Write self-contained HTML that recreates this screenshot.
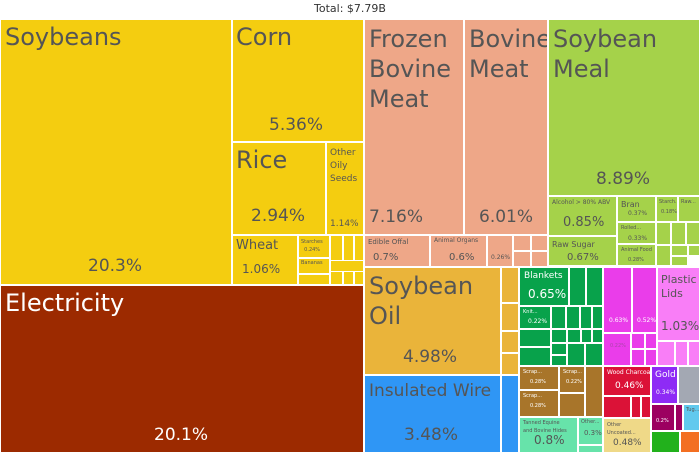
<!DOCTYPE html><html><head><style>
body{margin:0;width:700px;height:455px;background:#fff;font-family:"DejaVu Sans","Liberation Sans",sans-serif;overflow:hidden;position:relative}
.c{position:absolute;box-sizing:border-box;border:1px solid #fff;color:#555;overflow:hidden}
.t{position:absolute;white-space:nowrap;line-height:1.15}
.w{color:#fff}
</style></head><body>
<div class="t" style="left:0;width:700px;text-align:center;top:3px;font-size:11px;color:#333">Total: $7.79B</div>
<!-- yellow -->
<div class="c" style="left:0;top:19px;width:232px;height:266px;background:#F4CD10"><div class="t" style="left:4px;top:4px;font-size:24px">Soybeans</div><div class="t" style="left:87px;top:237px;font-size:17px">20.3%</div></div>
<div class="c" style="left:232px;top:19px;width:132px;height:123px;background:#F4CD10"><div class="t" style="left:3px;top:4px;font-size:24px">Corn</div><div class="t" style="left:36px;top:96px;font-size:17px">5.36%</div></div>
<div class="c" style="left:232px;top:142px;width:94px;height:93px;background:#F4CD10"><div class="t" style="left:3px;top:4px;font-size:24px">Rice</div><div class="t" style="left:18px;top:64px;font-size:17px">2.94%</div></div>
<div class="c" style="left:326px;top:142px;width:38px;height:93px;background:#F4CD10"><div class="t" style="left:3px;top:4px;font-size:9px;line-height:1.45">Other<br>Oily<br>Seeds</div><div class="t" style="left:3px;top:76px;font-size:9px">1.14%</div></div>
<div class="c" style="left:232px;top:235px;width:66px;height:50px;background:#F4CD10"><div class="t" style="left:3px;top:3px;font-size:13px">Wheat</div><div class="t" style="left:9px;top:27px;font-size:12px">1.06%</div></div>
<div class="c" style="left:298px;top:235px;width:32px;height:23px;background:#F4CD10"><div class="t" style="left:2px;top:2px;font-size:5px;line-height:1.6">Starches<br>&nbsp;&nbsp;0.24%</div></div>
<div class="c" style="left:298px;top:258px;width:32px;height:16px;background:#F4CD10"><div class="t" style="left:2px;top:2px;font-size:5px">Bananas</div></div>
<div class="c" style="left:298px;top:274px;width:32px;height:11px;background:#F4CD10"></div>
<div class="c" style="left:330px;top:235px;width:13px;height:50px;background:#F4CD10"></div>
<div class="c" style="left:343px;top:235px;width:11px;height:50px;background:#F4CD10"></div>
<div class="c" style="left:354px;top:235px;width:10px;height:50px;background:#F4CD10"></div>
<div class="c" style="left:330px;top:260px;width:34px;height:12px;background:#F4CD10"></div>
<!-- electricity -->
<div class="c" style="left:0;top:285px;width:364px;height:168px;background:#9C2A00"><div class="t w" style="left:4px;top:4px;font-size:24px">Electricity</div><div class="t w" style="left:153px;top:140px;font-size:17px">20.1%</div></div>
<!-- salmon -->
<div class="c" style="left:364px;top:19px;width:100px;height:216px;background:#EEA788"><div class="t" style="left:4px;top:4px;font-size:24px;line-height:1.25">Frozen<br>Bovine<br>Meat</div><div class="t" style="left:4px;top:188px;font-size:17px">7.16%</div></div>
<div class="c" style="left:464px;top:19px;width:84px;height:216px;background:#EEA788"><div class="t" style="left:4px;top:4px;font-size:24px;line-height:1.25">Bovine<br>Meat</div><div class="t" style="left:14px;top:188px;font-size:17px">6.01%</div></div>
<div class="c" style="left:364px;top:235px;width:66px;height:32px;background:#EEA788"><div class="t" style="left:3px;top:2px;font-size:7px">Edible Offal</div><div class="t" style="left:8px;top:16px;font-size:10px">0.7%</div></div>
<div class="c" style="left:430px;top:235px;width:57px;height:32px;background:#EEA788"><div class="t" style="left:3px;top:2px;font-size:6px">Animal Organs</div><div class="t" style="left:18px;top:16px;font-size:10px">0.6%</div></div>
<div class="c" style="left:487px;top:235px;width:26px;height:32px;background:#EEA788"><div class="t" style="left:3px;top:19px;font-size:6px">0.26%</div></div>
<div class="c" style="left:513px;top:235px;width:18px;height:16px;background:#EEA788"></div>
<div class="c" style="left:531px;top:235px;width:17px;height:16px;background:#EEA788"></div>
<div class="c" style="left:513px;top:251px;width:18px;height:16px;background:#EEA788"></div>
<div class="c" style="left:531px;top:251px;width:17px;height:16px;background:#EEA788"></div>
<!-- green light -->
<div class="c" style="left:548px;top:19px;width:152px;height:177px;background:#A5D24A"><div class="t" style="left:4px;top:4px;font-size:24px;line-height:1.25">Soybean<br>Meal</div><div class="t" style="left:47px;top:150px;font-size:17px">8.89%</div></div>
<div class="c" style="left:548px;top:196px;width:69px;height:40px;background:#A5D24A"><div class="t" style="left:3px;top:3px;font-size:6px">Alcohol &gt; 80% ABV</div><div class="t" style="left:14px;top:19px;font-size:13px">0.85%</div></div>
<div class="c" style="left:548px;top:236px;width:69px;height:30px;background:#A5D24A"><div class="t" style="left:3px;top:3px;font-size:8px">Raw Sugar</div><div class="t" style="left:18px;top:15px;font-size:10px">0.67%</div></div>
<div class="c" style="left:617px;top:196px;width:39px;height:26px;background:#A5D24A"><div class="t" style="left:3px;top:3px;font-size:8px">Bran</div><div class="t" style="left:10px;top:14px;font-size:6px">0.37%</div></div>
<div class="c" style="left:617px;top:222px;width:39px;height:22px;background:#A5D24A"><div class="t" style="left:3px;top:3px;font-size:5px">Rolled...</div><div class="t" style="left:10px;top:13px;font-size:6px">0.33%</div></div>
<div class="c" style="left:617px;top:244px;width:39px;height:22px;background:#A5D24A"><div class="t" style="left:3px;top:3px;font-size:5px">Animal Food</div><div class="t" style="left:10px;top:13px;font-size:5px">0.28%</div></div>
<div class="c" style="left:656px;top:196px;width:22px;height:26px;background:#A5D24A"><div class="t" style="left:2px;top:3px;font-size:5px">Starch...</div><div class="t" style="left:4px;top:13px;font-size:5px">0.18%</div></div>
<div class="c" style="left:678px;top:196px;width:22px;height:26px;background:#A5D24A"><div class="t" style="left:2px;top:3px;font-size:5px">Raw...</div></div>
<div class="c" style="left:656px;top:222px;width:15px;height:23px;background:#A5D24A"></div>
<div class="c" style="left:671px;top:222px;width:15px;height:23px;background:#A5D24A"></div>
<div class="c" style="left:686px;top:222px;width:14px;height:23px;background:#A5D24A"></div>
<div class="c" style="left:656px;top:245px;width:15px;height:21px;background:#A5D24A"></div>
<div class="c" style="left:671px;top:245px;width:17px;height:11px;background:#A5D24A"></div>
<div class="c" style="left:688px;top:245px;width:12px;height:11px;background:#A5D24A"></div>
<div class="c" style="left:671px;top:256px;width:17px;height:10px;background:#A5D24A"></div>
<!-- soybean oil -->
<div class="c" style="left:364px;top:267px;width:137px;height:108px;background:#EAB43A"><div class="t" style="left:4px;top:3px;font-size:24px;line-height:1.25">Soybean<br>Oil</div><div class="t" style="left:38px;top:80px;font-size:17px">4.98%</div></div>
<div class="c" style="left:501px;top:267px;width:18px;height:36px;background:#EAB43A"></div>
<div class="c" style="left:501px;top:303px;width:18px;height:28px;background:#EAB43A"></div>
<div class="c" style="left:501px;top:331px;width:18px;height:22px;background:#EAB43A"></div>
<div class="c" style="left:501px;top:353px;width:18px;height:22px;background:#EAB43A"></div>
<div class="c" style="left:364px;top:375px;width:137px;height:78px;background:#2F96F5"><div class="t" style="left:4px;top:6px;font-size:17px">Insulated Wire</div><div class="t" style="left:39px;top:50px;font-size:17px">3.48%</div></div>
<div class="c" style="left:501px;top:375px;width:18px;height:78px;background:#2F96F5"></div>
<!-- green dark -->
<div class="c" style="left:519px;top:267px;width:84px;height:99px;background:#08A24B"></div>
<div class="c" style="left:519px;top:267px;width:50px;height:39px;background:#08A24B"><div class="t w" style="left:4px;top:3px;font-size:9px">Blankets</div><div class="t w" style="left:8px;top:20px;font-size:12px">0.65%</div></div>
<div class="c" style="left:569px;top:267px;width:17px;height:39px;background:#08A24B"></div>
<div class="c" style="left:586px;top:267px;width:17px;height:39px;background:#08A24B"></div>
<div class="c" style="left:519px;top:306px;width:32px;height:23px;background:#08A24B"><div class="t w" style="left:3px;top:3px;font-size:5px">Knit...</div><div class="t w" style="left:8px;top:12px;font-size:6px">0.22%</div></div>
<div class="c" style="left:551px;top:306px;width:15px;height:23px;background:#08A24B"></div>
<div class="c" style="left:566px;top:306px;width:14px;height:23px;background:#08A24B"></div>
<div class="c" style="left:580px;top:306px;width:12px;height:23px;background:#08A24B"></div>
<div class="c" style="left:592px;top:306px;width:11px;height:23px;background:#08A24B"></div>
<div class="c" style="left:519px;top:329px;width:32px;height:18px;background:#08A24B"></div>
<div class="c" style="left:519px;top:347px;width:32px;height:19px;background:#08A24B"></div>
<div class="c" style="left:551px;top:329px;width:16px;height:14px;background:#08A24B"></div>
<div class="c" style="left:567px;top:329px;width:14px;height:14px;background:#08A24B"></div>
<div class="c" style="left:581px;top:329px;width:11px;height:14px;background:#08A24B"></div>
<div class="c" style="left:592px;top:329px;width:11px;height:14px;background:#08A24B"></div>
<div class="c" style="left:551px;top:343px;width:16px;height:12px;background:#08A24B"></div>
<div class="c" style="left:551px;top:355px;width:16px;height:11px;background:#08A24B"></div>
<div class="c" style="left:567px;top:343px;width:18px;height:23px;background:#08A24B"></div>
<div class="c" style="left:585px;top:343px;width:18px;height:23px;background:#08A24B"></div>
<!-- magenta -->
<div class="c" style="left:603px;top:267px;width:29px;height:66px;background:#EA3DEA"><div class="t w" style="left:5px;top:50px;font-size:6px">0.63%</div></div>
<div class="c" style="left:632px;top:267px;width:25px;height:66px;background:#EA3DEA"><div class="t w" style="left:4px;top:50px;font-size:6px">0.52%</div></div>
<div class="c" style="left:603px;top:333px;width:28px;height:33px;background:#EA3DEA"><div class="t" style="left:6px;top:10px;font-size:5px;color:#a4a">0.22%</div></div>
<div class="c" style="left:631px;top:333px;width:14px;height:16px;background:#EA3DEA"></div>
<div class="c" style="left:645px;top:333px;width:12px;height:16px;background:#EA3DEA"></div>
<div class="c" style="left:631px;top:349px;width:14px;height:17px;background:#EA3DEA"></div>
<div class="c" style="left:645px;top:349px;width:12px;height:17px;background:#EA3DEA"></div>
<div class="c" style="left:657px;top:267px;width:43px;height:74px;background:#F97EF7"><div class="t" style="left:3px;top:5px;font-size:11px;line-height:1.3">Plastic<br>Lids</div><div class="t" style="left:3px;top:52px;font-size:12px">1.03%</div></div>
<div class="c" style="left:657px;top:341px;width:18px;height:25px;background:#F97EF7"></div>
<div class="c" style="left:675px;top:341px;width:13px;height:25px;background:#F97EF7"></div>
<div class="c" style="left:688px;top:341px;width:12px;height:25px;background:#F97EF7"></div>
<!-- brown -->
<div class="c" style="left:519px;top:366px;width:40px;height:24px;background:#A8752A"><div class="t w" style="left:3px;top:3px;font-size:5px">Scrap...</div><div class="t w" style="left:10px;top:13px;font-size:5px">0.28%</div></div>
<div class="c" style="left:519px;top:390px;width:40px;height:27px;background:#A8752A"><div class="t w" style="left:3px;top:3px;font-size:5px">Scrap...</div><div class="t w" style="left:10px;top:13px;font-size:5px">0.28%</div></div>
<div class="c" style="left:559px;top:366px;width:26px;height:27px;background:#A8752A"><div class="t w" style="left:3px;top:3px;font-size:5px">Scrap...</div><div class="t w" style="left:6px;top:13px;font-size:5px">0.22%</div></div>
<div class="c" style="left:559px;top:393px;width:26px;height:24px;background:#A8752A"></div>
<div class="c" style="left:585px;top:366px;width:18px;height:51px;background:#A8752A"></div>
<!-- mint -->
<div class="c" style="left:519px;top:417px;width:59px;height:36px;background:#67E3AA"><div class="t" style="left:3px;top:2px;font-size:5px;line-height:1.5">Tanned Equine<br>and Bovine Hides</div><div class="t" style="left:14px;top:16px;font-size:12px">0.8%</div></div>
<div class="c" style="left:578px;top:417px;width:25px;height:28px;background:#67E3AA"><div class="t" style="left:2px;top:2px;font-size:5px">Other...</div><div class="t" style="left:5px;top:11px;font-size:7px">0.3%</div></div>
<div class="c" style="left:578px;top:445px;width:25px;height:8px;background:#67E3AA"></div>
<!-- red -->
<div class="c" style="left:603px;top:366px;width:48px;height:30px;background:#DB1237"><div class="t w" style="left:3px;top:3px;font-size:6px">Wood Charcoal</div><div class="t w" style="left:11px;top:14px;font-size:9px">0.46%</div></div>
<div class="c" style="left:603px;top:396px;width:28px;height:22px;background:#DB1237"></div>
<div class="c" style="left:631px;top:396px;width:10px;height:22px;background:#DB1237"></div>
<div class="c" style="left:641px;top:396px;width:10px;height:22px;background:#DB1237"></div>
<div class="c" style="left:603px;top:418px;width:48px;height:35px;background:#EFD988"><div class="t" style="left:3px;top:3px;font-size:5px;line-height:1.5">Other<br>Uncoated...</div><div class="t" style="left:9px;top:19px;font-size:9px">0.48%</div></div>
<!-- misc -->
<div class="c" style="left:651px;top:366px;width:27px;height:38px;background:#8E2BF5"><div class="t w" style="left:3px;top:3px;font-size:9px">Gold</div><div class="t w" style="left:4px;top:23px;font-size:6px">0.34%</div></div>
<div class="c" style="left:678px;top:366px;width:22px;height:38px;background:#A3A8B3"></div>
<div class="c" style="left:651px;top:404px;width:24px;height:27px;background:#9C0060"><div class="t w" style="left:4px;top:14px;font-size:5px">0.2%</div></div>
<div class="c" style="left:675px;top:404px;width:8px;height:27px;background:#9C0060"></div>
<div class="c" style="left:683px;top:404px;width:17px;height:27px;background:#61C9EE"><div class="t" style="left:2px;top:3px;font-size:5px">Tug...</div></div>
<div class="c" style="left:651px;top:431px;width:29px;height:22px;background:#22B11C"></div>
<div class="c" style="left:680px;top:431px;width:20px;height:22px;background:#F36F22"></div>
</body></html>
